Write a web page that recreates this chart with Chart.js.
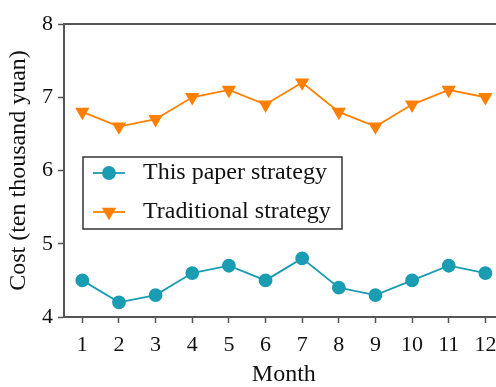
<!DOCTYPE html>
<html>
<head>
<meta charset="utf-8">
<script src="https://cdn.jsdelivr.net/npm/chart.js@4"></script>
<style>
  html, body { margin: 0; padding: 0; background: #fff; }
  #wrap { width: 496px; height: 387px; overflow: hidden; position: relative; }
  #c { position: absolute; left: 0; top: 0; }
</style>
</head>
<body>
<div id="wrap"><canvas id="c" width="512" height="387"></canvas></div>
<script>
// Monthly cost, in ten thousand yuan
const months = ['1', '2', '3', '4', '5', '6', '7', '8', '9', '10', '11', '12'];
const thisPaperCost = [4.5, 4.2, 4.3, 4.6, 4.7, 4.5, 4.8, 4.4, 4.3, 4.5, 4.7, 4.6];
const traditionalCost = [6.8, 6.6, 6.7, 7.0, 7.1, 6.9, 7.2, 6.8, 6.6, 6.9, 7.1, 7.0];
const yTicks = [4, 5, 6, 7, 8];

const TEAL = '#1a9cb2';
const ORANGE = '#ff8000';
const AXIS = '#555555';
const FONT = '"Liberation Serif", "Times New Roman", serif';

// Framed legend box inside the plot, plus the top frame line
const frameAndLegend = {
  id: 'frameAndLegend',
  afterDraw(chart) {
    const { ctx, chartArea } = chart;
    ctx.save();
    ctx.strokeStyle = AXIS;
    ctx.lineWidth = 2;
    ctx.beginPath();
    ctx.moveTo(chartArea.left - 1, chartArea.top);
    ctx.lineTo(chartArea.right + 20, chartArea.top);
    ctx.stroke();

    const bx = 83, by = 157, bw = 259, bh = 72;
    ctx.strokeStyle = '#333';
    ctx.lineWidth = 1.5;
    ctx.strokeRect(bx, by, bw, bh);

    const rows = [173, 212];
    chart.data.datasets.forEach((ds, i) => {
      const y = rows[i];
      ctx.strokeStyle = ds.borderColor;
      ctx.lineWidth = ds.borderWidth;
      ctx.beginPath();
      ctx.moveTo(93, y);
      ctx.lineTo(125, y);
      ctx.stroke();
      ctx.fillStyle = ds.pointBackgroundColor;
      ctx.strokeStyle = ds.pointBorderColor;
      Chart.helpers.drawPoint(ctx, {
        pointStyle: ds.pointStyle,
        rotation: ds.pointRotation || 0,
        radius: ds.pointRadius,
        borderWidth: 1
      }, 109, y);
      ctx.fillStyle = '#111';
      ctx.font = '24px ' + FONT;
      ctx.textBaseline = 'middle';
      ctx.textAlign = 'left';
      ctx.fillText(ds.label, 143, y);
    });
    ctx.restore();
  }
};

new Chart(document.getElementById('c'), {
  type: 'line',
  data: {
    labels: months,
    datasets: [
      {
        label: 'This paper strategy',
        data: thisPaperCost,
        borderColor: TEAL,
        backgroundColor: TEAL,
        pointBackgroundColor: TEAL,
        pointBorderColor: TEAL,
        borderWidth: 1.8,
        pointStyle: 'circle',
        pointRadius: 6,
        tension: 0
      },
      {
        label: 'Traditional strategy',
        data: traditionalCost,
        borderColor: ORANGE,
        backgroundColor: ORANGE,
        pointBackgroundColor: ORANGE,
        pointBorderColor: ORANGE,
        borderWidth: 1.8,
        pointStyle: 'triangle',
        pointRotation: 180,
        pointRadius: 6.5,
        tension: 0
      }
    ]
  },
  options: {
    responsive: false,
    animation: false,
    layout: { padding: { top: 24, right: 8, left: 0, bottom: 0 } },
    plugins: { legend: { display: false }, tooltip: { enabled: false } },
    scales: {
      x: {
        type: 'category',
        offset: true,
        grid: {
          display: true,
          drawOnChartArea: false,
          drawTicks: true,
          tickLength: 6,
          tickWidth: 1.5,
          tickColor: AXIS,
          offset: false
        },
        border: { display: true, color: AXIS, width: 2 },
        ticks: {
          color: '#111',
          font: { family: FONT, size: 22 },
          padding: 9,
          maxRotation: 0,
          autoSkip: false
        },
        title: {
          display: true,
          text: 'Month',
          color: '#111',
          font: { family: FONT, size: 24, lineHeight: 1 },
          padding: { top: 0, bottom: 0 }
        },
        afterFit(scale) { scale.height = 70; }
      },
      y: {
        type: 'linear',
        min: 4,
        max: 8,
        afterBuildTicks(scale) { scale.ticks = yTicks.map(v => ({ value: v })); },
        grid: {
          display: true,
          drawOnChartArea: false,
          drawTicks: true,
          tickLength: 6,
          tickWidth: 1.5,
          tickColor: AXIS
        },
        border: { display: true, color: AXIS, width: 2 },
        ticks: {
          color: '#111',
          font: { family: FONT, size: 22 },
          padding: 5
        },
        title: {
          display: true,
          text: 'Cost (ten thousand yuan)',
          color: '#111',
          font: { family: FONT, size: 24, lineHeight: 1 },
          padding: { top: 7, bottom: 0 }
        },
        afterFit(scale) { scale.width = 64; }
      }
    }
  },
  plugins: [frameAndLegend]
});
</script>
</body>
</html>
